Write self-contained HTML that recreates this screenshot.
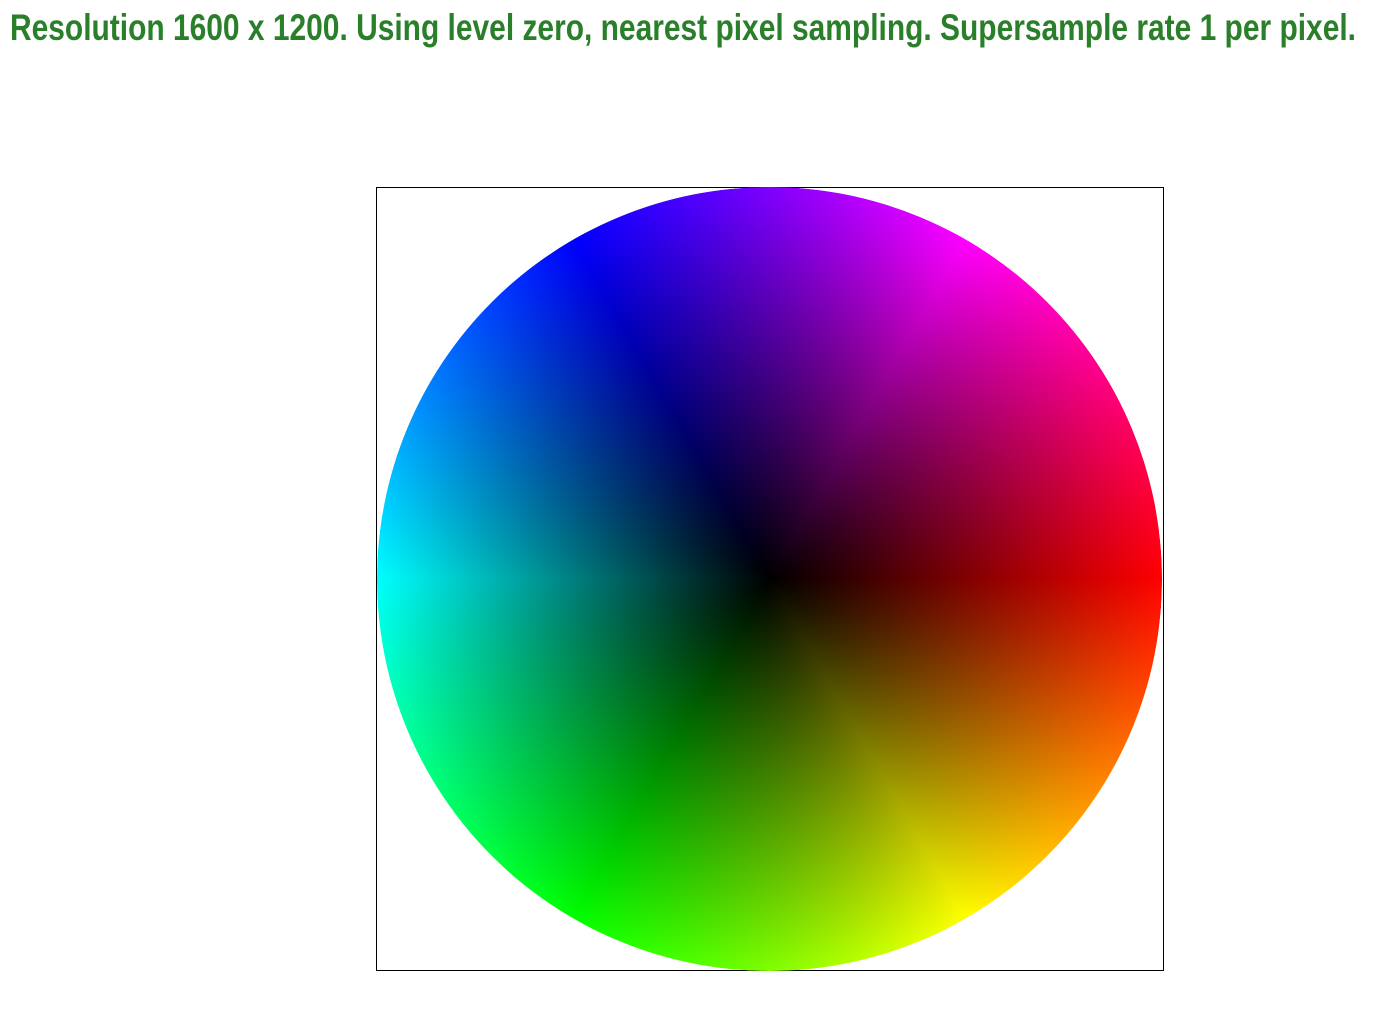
<!DOCTYPE html>
<html><head><meta charset="utf-8"><style>
html,body{margin:0;padding:0;background:#fff;width:1380px;height:1014px;overflow:hidden}
#frame{position:absolute;left:376px;top:187px;width:786px;height:782px;border:1px solid #000}
#wheel{position:absolute;left:377px;top:187px;width:785px;height:784px;border-radius:50%;overflow:hidden}
#hue,#shade{position:absolute;inset:0;border-radius:50%}
#shade{background:radial-gradient(circle closest-side,rgba(0,0,0,1) 0%,rgba(0,0,0,0) 100%)}
</style></head><body>
<svg width="1380" height="60" style="position:absolute;left:0;top:0">
<text x="10" y="40" font-family="'Liberation Sans Narrow','Liberation Sans',sans-serif" font-weight="bold" font-size="37" fill="#2a7f2a" textLength="1346" lengthAdjust="spacingAndGlyphs">Resolution 1600 x 1200. Using level zero, nearest pixel sampling. Supersample rate 1 per pixel.</text>
</svg>
<div id="frame"></div>
<div id="wheel">
<div id="hue"></div>
<div id="shade"></div>
</div>
<script>
const hueStops = [0, 60, 120, 180, 240, 300, 360];
const hueColors = ['#ff0000','#ffff00','#00ff00','#00ffff','#0000ff','#ff00ff','#ff0000'];
const parts = hueStops.map((h,i)=>hueColors[i]+' '+h+'deg');
document.getElementById('hue').style.background='conic-gradient(from 90deg, '+parts.join(',')+')';
</script>
</body></html>
